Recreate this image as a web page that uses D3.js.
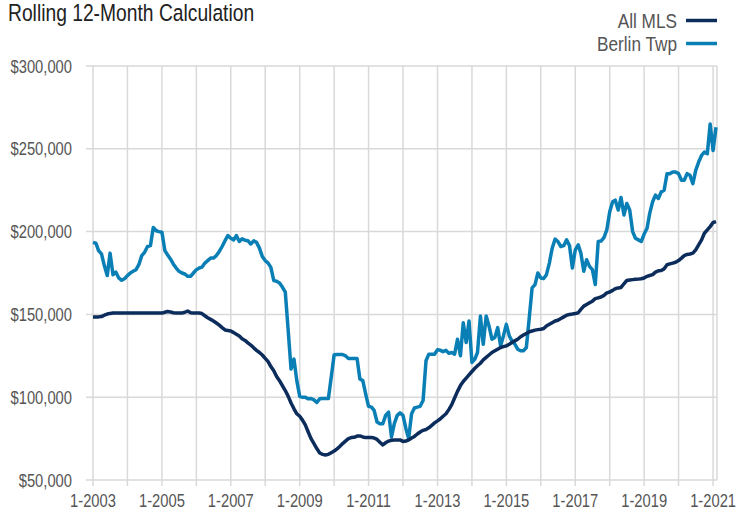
<!DOCTYPE html>
<html>
<head>
<meta charset="utf-8">
<script src="https://cdn.jsdelivr.net/npm/d3@7"></script>
<style>
  body { margin: 0; background: #fff; }
  svg text { font-family: "Liberation Sans", Arial, sans-serif; }
</style>
</head>
<body>
<div id="chart"></div>
<script>
// monthly values, Jan 2003 .. Feb 2021 (in $ thousands)
var startMonth = new Date(2003, 0, 1);

var allMls = [
  148.5, 148.5, 148.5, 148.7, 149.5, 150.2, 150.6, 150.8, 150.8, 150.8, 150.8, 150.8, // 2003
  150.8, 150.8, 150.8, 150.8, 150.8, 150.8, 150.8, 150.8, 150.8, 150.8, 150.8, 150.8, // 2004
  150.8, 151.3, 151.8, 151.5, 151, 150.8, 150.8, 150.8, 151.3, 152, 151, 150.8,       // 2005
  150.8, 150.8, 150.5, 149.2, 148, 147, 146, 144.8, 143.5, 142, 140.6, 140.3,         // 2006
  140, 139, 138, 137, 135.3, 134.3, 132.8, 131.5, 129.8, 128.3, 127, 125.5,           // 2007
  123.5, 121.5, 118.5, 116, 112.5, 110, 107, 104, 100.5, 96.5, 93, 90,                // 2008
  88.5, 86, 83.3, 79, 75, 72, 69, 66.3, 65.5, 65.1, 65.5, 66.5,                       // 2009
  67.5, 68.8, 70.2, 72, 73.5, 75, 75.6, 75.8, 76.5, 76.6, 76, 75.6,                   // 2010
  75.6, 75.6, 75.4, 74.5, 72.8, 71.2, 72.5, 73.5, 74, 74.2, 74.2, 74.2,               // 2011
  73.3, 73.5, 74.2, 75.3, 76.3, 77.8, 79, 80, 80.5, 81.5, 83, 84.5,                   // 2012
  85.7, 87, 88.5, 90, 92.5, 95.5, 99.5, 103.5, 107, 109.5, 111.5, 113.5,              // 2013
  115.5, 117.5, 119, 120.5, 122.5, 124, 125.5, 127, 128, 129, 130, 130.5,             // 2014
  131, 132, 133, 134, 135, 136.5, 137.5, 138.5, 139.5, 140, 140.5, 140.8,             // 2015
  141, 141.5, 143, 144, 145, 146, 146.5, 147.5, 148.5, 149.5, 150, 150.2,             // 2016
  150.5, 151, 153, 155, 156, 157, 158, 159.5, 160, 160.5, 161.5, 163,                 // 2017
  163.5, 164.5, 165.5, 166, 166.3, 168.5, 170.5, 170.8, 171, 171.2, 171.3, 171.5,     // 2018
  172, 173, 173.5, 174, 175.5, 176.3, 176.5, 177.5, 180, 180.5, 181, 181.5,           // 2019
  182.5, 184, 185.5, 186.2, 186.5, 187, 189, 192, 195, 199, 201, 203,                 // 2020
  205.5, 206                                                                          // 2021
];

var berlinTwp = [
  193.5, 193, 188.5, 186.5, 179.5, 173.5, 187, 174, 175.5, 172, 170.6, 171.5,         // 2003
  173.4, 175, 176, 177, 180, 185.5, 187.5, 191, 191.5, 202.5, 200.5, 200,             // 2004
  199.6, 188.5, 186, 183.5, 180.5, 178, 176, 175, 174.4, 173, 173, 175,               // 2005
  177, 178, 178.5, 181, 182.5, 184, 184, 185.5, 188, 191, 194.5, 197.6,               // 2006
  196, 195, 197.6, 194, 195.6, 194.8, 194.5, 192.5, 194.4, 193.5, 190, 185,           // 2007
  182.5, 181, 178.4, 170.4, 170, 169, 166.5, 163.5, 140, 117, 123, 110,               // 2008
  100.5, 100, 100, 99, 99.2, 98.4, 96.8, 99, 99.2, 99.2, 99.2, 112,                   // 2009
  125.6, 125.8, 125.8, 125.8, 125, 123.4, 123.4, 123.4, 123.4, 111, 110, 102,         // 2010
  94.5, 94, 92, 85, 84, 84, 89, 91, 76, 84, 89, 90.5,                                 // 2011
  89, 81, 75, 90, 93.5, 94, 94.5, 98, 122, 126, 126, 126,                             // 2012
  128.6, 128.3, 127.5, 128.3, 126.5, 127, 126, 135, 125, 145, 133, 146,               // 2013
  121, 123, 127, 149, 132, 149, 143, 135, 136, 142, 131, 137,                         // 2014
  144, 137, 134, 132, 129, 128, 128, 130, 148, 166, 168, 175,                         // 2015
  172, 171.6, 174, 181, 190, 195.5, 194, 191, 191.5, 195, 191.5, 178,                 // 2016
  189, 192, 187, 176, 183, 179, 177, 168, 194, 194.3, 196.4, 201,                     // 2017
  212, 218, 219, 213, 220.6, 210, 217, 213, 200, 196, 195, 194,                       // 2018
  198.5, 202, 211, 218, 222, 220, 224, 225, 235, 235, 236, 236,                       // 2019
  235, 231, 231, 235, 234, 229, 237, 242, 246, 248, 247, 265,                         // 2020
  249, 263                                                                            // 2021
];

var seriesNames = ["All MLS", "Berlin Twp"];
var seriesColors = ["#0c2c5c", "#0a7fb6"];
var yTicks = [50000, 100000, 150000, 200000, 250000, 300000];
var xYears = d3.range(2003, 2022);          // gridline every year
var xLabelYears = d3.range(2003, 2022, 2);  // label every other year

var width = 738, height = 515, narrow = 0.82;
var months = allMls.map(function(d, i){ return d3.timeMonth.offset(startMonth, i); });

var svg = d3.select("#chart").append("svg")
  .attr("width", width).attr("height", height);

// condensed look: squeeze text horizontally around its anchor
function label(sel, px, py){
  return sel.attr("x", 0).attr("y", 0)
    .attr("transform", "translate(" + px + "," + py + ") scale(" + narrow + ",1)");
}

var x = d3.scaleTime()
  .domain([startMonth, months[months.length - 1]])
  .range([93, 716]);
var y = d3.scaleLinear().domain([50000, 300000]).range([480, 66]);

// horizontal grid
svg.append("g").selectAll("line").data(yTicks).enter().append("line")
  .attr("x1", 86).attr("x2", 717)
  .attr("y1", function(d){ return y(d); }).attr("y2", function(d){ return y(d); })
  .attr("stroke", "#d9d9d9").attr("stroke-width", 1.5);

// vertical grid + ticks
svg.append("g").selectAll("line").data(xYears).enter().append("line")
  .attr("x1", function(d){ return x(new Date(d, 0, 1)); })
  .attr("x2", function(d){ return x(new Date(d, 0, 1)); })
  .attr("y1", 66).attr("y2", 486)
  .attr("stroke", "#d9d9d9").attr("stroke-width", 1.5);
svg.append("line")
  .attr("x1", 717).attr("x2", 717).attr("y1", 66).attr("y2", 480)
  .attr("stroke", "#d9d9d9").attr("stroke-width", 1.5);

// y labels
svg.append("g").selectAll("text").data(yTicks).enter().append("text")
  .each(function(d){ label(d3.select(this), 72, y(d) + 6.5); })
  .attr("text-anchor", "end")
  .attr("font-size", 18).attr("fill", "#555")
  .text(function(d){ return d3.format("$,")(d); });

// x labels
svg.append("g").selectAll("text").data(xLabelYears).enter().append("text")
  .each(function(d){ label(d3.select(this), x(new Date(d, 0, 1)), 507); })
  .attr("text-anchor", "middle")
  .attr("font-size", 18).attr("fill", "#555")
  .text(function(d){ return "1-" + d; });

// lines
var line = d3.line()
  .x(function(d, i){ return x(months[i]); })
  .y(function(d){ return y(d * 1000); });

[berlinTwp, allMls].forEach(function(s, k){
  svg.append("path").datum(s)
    .attr("d", line)
    .attr("fill", "none")
    .attr("stroke", k === 0 ? seriesColors[1] : seriesColors[0])
    .attr("stroke-width", 3.5)
    .attr("stroke-linejoin", "round");
});

// title
label(svg.append("text"), 8, 21)
  .attr("font-size", 23.5).attr("fill", "#222")
  .text("Rolling 12-Month Calculation");

// legend
seriesNames.forEach(function(name, i){
  var ly = 20.5 + i * 23;
  label(svg.append("text"), 677, ly + 7.5)
    .attr("text-anchor", "end")
    .attr("font-size", 21).attr("fill", "#555")
    .text(name);
  svg.append("line")
    .attr("x1", 686).attr("x2", 717).attr("y1", ly).attr("y2", ly)
    .attr("stroke", seriesColors[i]).attr("stroke-width", 3.5);
});
</script>
</body>
</html>
